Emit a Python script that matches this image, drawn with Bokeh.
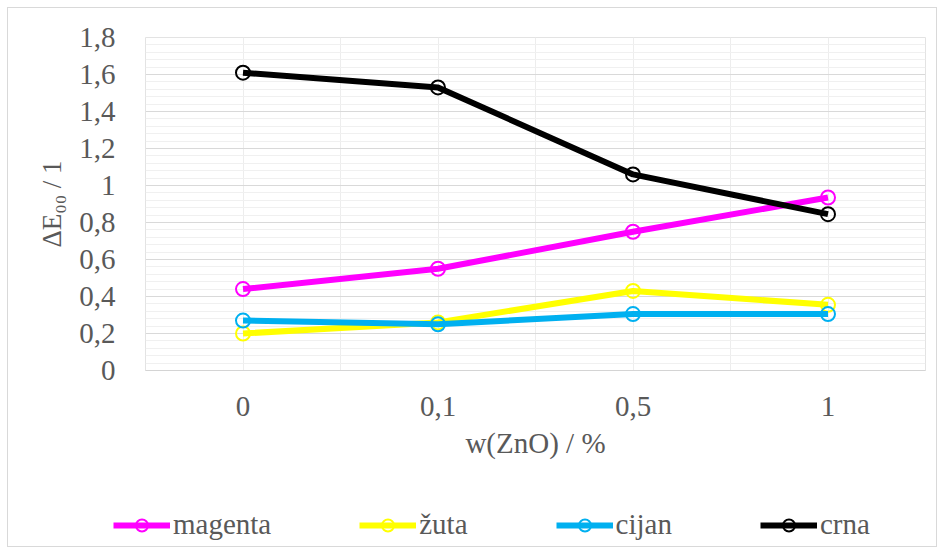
from bokeh.plotting import figure
from bokeh.layouts import column
from bokeh.models import (Range1d, FixedTicker, SingleIntervalTicker, CustomJSTickFormatter,
                          Legend, LegendItem)
from bokeh.embed import file_html
from bokeh.resources import INLINE

# ---- data ----
categories = ["0", "0,1", "0,5", "1"]
series_names = ["magenta", "žuta", "cijan", "crna"]
magenta = [0.44, 0.55, 0.75, 0.935]
zuta = [0.20, 0.26, 0.43, 0.355]
cijan = [0.27, 0.25, 0.305, 0.305]
crna = [1.61, 1.53, 1.06, 0.845]
colors = ["#FF00FF", "#FFFF00", "#00B0F0", "#000000"]
y_max = 1.8
y_step = 0.2

FONT = "Liberation Serif"
TXT = "#595959"
W = 928
LEG_H = 68
H = 538 - LEG_H

x = list(range(len(categories)))
series = [magenta, zuta, cijan, crna]

p = figure(width=W, height=H, output_backend="svg", toolbar_location=None,
           x_range=Range1d(-0.5, len(categories) - 0.5), y_range=Range1d(0, y_max),
           min_border_left=137, min_border_right=11, min_border_top=29, min_border_bottom=H - 362)
p.outline_line_color = "#e3e3e3"
p.background_fill_color = "white"
p.border_fill_color = "white"

# axes
p.xaxis.ticker = FixedTicker(ticks=x)
p.xaxis.major_label_overrides = {i: c for i, c in zip(x, categories)}
p.xaxis.axis_label = "w(ZnO) / %"
p.yaxis.ticker = SingleIntervalTicker(interval=y_step, num_minor_ticks=5)
p.yaxis.formatter = CustomJSTickFormatter(code="var s=(Math.round(tick*10)/10).toString(); return s.replace('.', ',');")
p.yaxis.axis_label = "ΔE₀₀ / 1"

for ax in (p.xaxis, p.yaxis):
    ax.major_tick_line_color = None
    ax.minor_tick_line_color = None
    ax.major_label_text_font = FONT
    ax.major_label_text_font_size = "29px"
    ax.major_label_text_color = TXT
    ax.axis_label_text_font = FONT
    ax.axis_label_text_font_size = "29px"
    ax.axis_label_text_font_style = "normal"
    ax.axis_label_text_color = TXT
p.yaxis.axis_label_text_font_size = "27px"
p.yaxis.axis_line_color = None
p.xaxis.axis_line_color = "#d4d4d4"
p.xaxis.major_label_standoff = 20
p.xaxis.axis_label_standoff = 8
p.yaxis.major_label_standoff = 24
p.yaxis.axis_label_standoff = 9

# grids
p.xgrid.ticker = SingleIntervalTicker(interval=0.5)
p.xgrid.grid_line_color = "#ededed"
p.ygrid.grid_line_color = "#d9d9d9"
p.ygrid.minor_grid_line_color = "#f0f0f0"

# series
for vals, col in zip(series, colors):
    p.line(x, vals, line_color=col, line_width=6)
    p.scatter(x, vals, marker="circle", size=14, line_color=col, line_width=2, fill_color=None)

# legend strip (separate plot holding only the legend)
pl = figure(width=W, height=LEG_H, output_backend="svg", toolbar_location=None,
            x_range=Range1d(-0.5, len(categories) - 0.5), y_range=Range1d(0, y_max),
            x_axis_type=None, y_axis_type=None,
            min_border=0, min_border_left=0, min_border_right=0, min_border_top=0, min_border_bottom=0)
pl.frame_align = False
pl.grid.visible = False
pl.outline_line_color = None
pl.background_fill_color = "white"
pl.border_fill_color = "white"
items = []
for name, vals, col in zip(series_names, series, colors):
    l = pl.line(x, vals, line_color=col, line_width=6, visible=False)
    m = pl.scatter(x, vals, marker="circle", line_color=col, line_width=2, fill_color=None, visible=False)
    items.append(LegendItem(label=name, renderers=[l, m]))
legend = Legend(items=items, orientation="horizontal", location=(105, 5),
                glyph_width=57, glyph_height=30, label_standoff=3, spacing=88,
                padding=0, margin=0, border_line_color=None, background_fill_alpha=0,
                inactive_fill_alpha=0,
                label_text_font=FONT, label_text_font_size="29px", label_text_color=TXT)
pl.add_layout(legend)

layout = column(p, pl, spacing=0)
layout.styles = {"margin": "8px", "outline": "1px solid #d9d9d9"}

open("out.html", "w").write(file_html(layout, INLINE))
